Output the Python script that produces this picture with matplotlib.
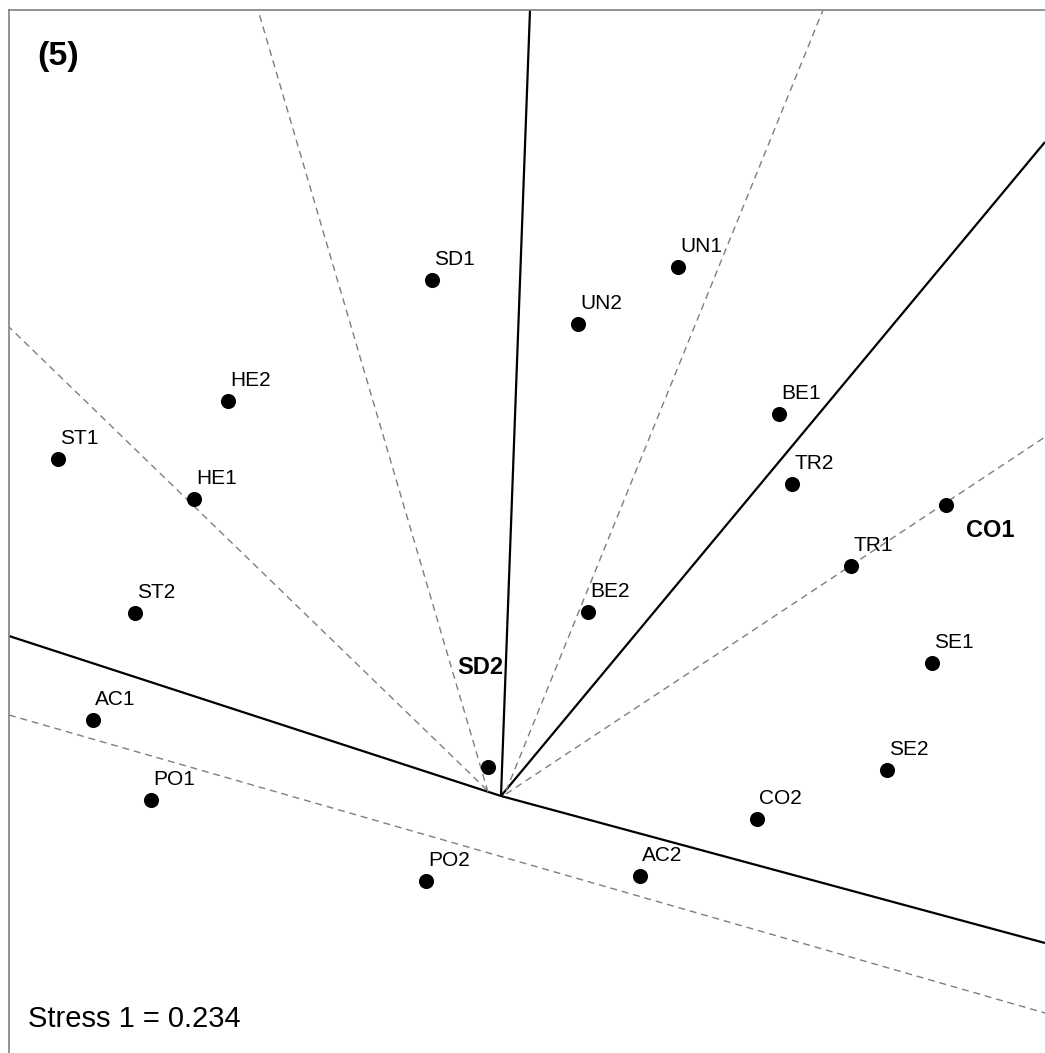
import numpy as np
import matplotlib
matplotlib.use('Agg')
import matplotlib.pyplot as plt

plt.rcParams['font.family'] = ['Liberation Sans', 'DejaVu Sans']

# MDS configuration
labels = ['SD1', 'UN2', 'UN1', 'BE2', 'HE2', 'ST1', 'HE1', 'BE1', 'TR2', 'CO1',
          'TR1', 'ST2', 'AC1', 'PO1', 'SD2', 'PO2', 'AC2', 'CO2', 'SE2', 'SE1']
dim1 = [-0.138, 0.154, 0.354, 0.174, -0.546, -0.886, -0.614, 0.556, 0.582, 0.890,
        0.700, -0.732, -0.816, -0.700, -0.026, -0.150, 0.278, 0.512, 0.772, 0.862]
dim2 = [1.032, 0.944, 1.058, 0.368, 0.790, 0.674, 0.594, 0.764, 0.624, 0.582,
        0.460, 0.366, 0.152, -0.008, 0.058, -0.170, -0.160, -0.046, 0.052, 0.266]
bold_labels = ['SD2', 'CO1']

# partition lines: (x0, y0, x1, y1)
solid_lines = [(0.0, 0.0, 0.058, 1.572),
               (0.0, 0.0, 1.088, 1.308),
               (0.0, 0.0, -0.984, 0.320),
               (0.0, 0.0, 1.088, -0.294)]
dashed_lines = [(-0.026, 0.008, -0.486, 1.572),
                (-0.028, 0.012, -0.984, 0.938),
                (0.010, 0.010, 0.644, 1.572),
                (0.010, 0.004, 1.088, 0.718),
                (-0.984, 0.162, 1.088, -0.434)]

panel = '(5)'
stress_text = 'Stress 1 = 0.234'

W, H = 1045, 1053
fig = plt.figure(figsize=(W / 100, H / 100), dpi=100)
ax = fig.add_axes([9 / W, 0, (W - 9) / W, (H - 10) / H])
ax.set_xlim(-0.984, 1.088)
ax.set_ylim(-0.514, 1.572)

for x0, y0, x1, y1 in solid_lines:
    ax.plot([x0, x1], [y0, y1], color='black', lw=1.6, solid_capstyle='butt')
for x0, y0, x1, y1 in dashed_lines:
    ax.plot([x0, x1], [y0, y1], color='#7f7f7f', lw=1.0, dashes=(5, 3.5))

ax.scatter(dim1, dim2, s=118, color='black', zorder=3, linewidths=0)

# label offsets in points (default: up right of the point)
offsets = {'SD2': (-22.3, 67.0), 'CO1': (14.4, -23.0)}
for lab, x, y in zip(labels, dim1, dim2):
    dx, dy = offsets.get(lab, (1.5, 10.8))
    if lab in bold_labels:
        ax.annotate(lab, (x, y), xytext=(dx, dy), textcoords='offset points',
                    fontsize=17, fontweight='bold', va='baseline', ha='left')
    else:
        ax.annotate(lab, (x, y), xytext=(dx, dy), textcoords='offset points',
                    fontsize=15, va='baseline', ha='left')

ax.text(0.027, 0.947, panel, transform=ax.transAxes, fontsize=24.5,
        fontweight='bold', va='baseline', ha='left')
ax.text(0.018, 0.025, stress_text, transform=ax.transAxes, fontsize=21,
        va='baseline', ha='left')

ax.set_xticks([])
ax.set_yticks([])
for side in ['right', 'bottom']:
    ax.spines[side].set_visible(False)
for side in ['left', 'top']:
    ax.spines[side].set_color('#808080')
    ax.spines[side].set_linewidth(1.2)

fig.savefig('out.png', dpi=100)
